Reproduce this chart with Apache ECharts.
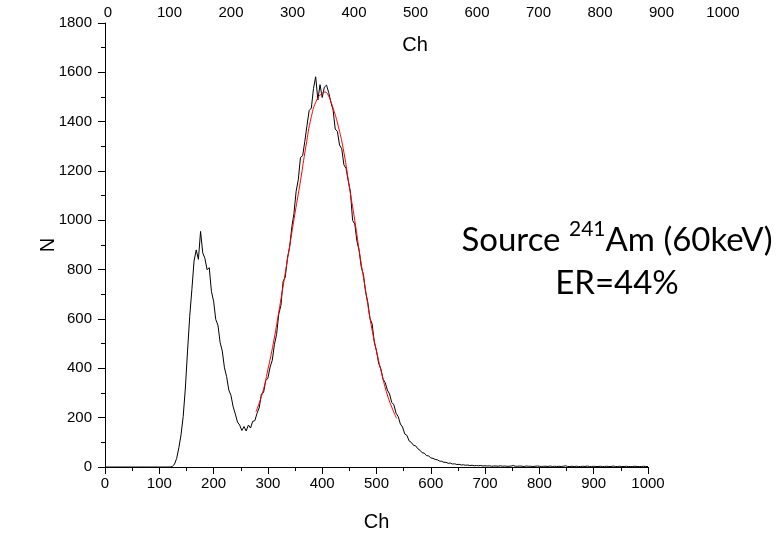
<!DOCTYPE html>
<html><head><meta charset="utf-8">
<script src="https://cdn.jsdelivr.net/npm/echarts@6/dist/echarts.min.js"></script>
<style>html,body{margin:0;padding:0;background:#fff}#c{width:784px;height:533px}</style>
</head><body><div id="c"></div>
<script>
// Spectrum: counts per bin, bins start at channel 0, one value every 4 channels
const spectrumStartCh = 0;
const spectrumStepCh = 4;
const spectrumCounts = [
  0,0,0,0,0,0,0,0,0,0,
  0,0,0,0,0,0,0,0,0,0,
  0,0,0,0,0,0,0,0,0,0,
  0,2,12,35,78,130,205,320,470,610,
  720,835,880,842,955,868,846,800,808,712,
  672,598,575,505,470,402,366,312,290,244,
  215,182,170,148,164,146,170,158,185,188,
  218,240,296,302,350,360,405,432,496,538,
  620,655,752,770,848,890,972,1028,1118,1165,
  1255,1262,1320,1385,1445,1455,1535,1582,1488,1550,
  1498,1540,1548,1518,1478,1448,1370,1360,1305,1290,
  1225,1210,1160,1115,1000,985,915,878,810,780,
  708,668,602,580,505,470,420,398,356,342,
  312,296,262,252,218,204,174,162,134,128,
  106,100,88,86,74,68,58,56,46,45,
  37,35,31,29,24,23,19,19,15,16,
  12,13,10,11,8,9,7,8,6,7,
  5,6,5,6,4,5,4,5,3,4,
  4,3,5,3,4,3,3,4,6,3,
  3,4,3,2,4,3,3,2,3,4,
  3,2,3,3,2,4,2,3,2,3,
  2,3,5,2,2,3,2,3,2,2,
  3,2,4,2,2,3,2,2,3,2,
  2,3,2,2,4,2,2,3,2,2,
  3,2,2,2,3,2,2,2,3,2,
  2
];
// Gaussian fit (red)
const fitChannels = [278,290,300,310,320,330,340,350,360,370,380,390,400,405,410,420,430,440,450,460,470,480,490,500,510,520,530,537];
const fitCounts   = [224,300,395,502,628,760,895,1030,1160,1300,1420,1488,1516,1520,1512,1455,1378,1275,1135,1000,850,715,578,470,375,292,232,197];

const xMin = 0, xMax = 1000, xStep = 100;
const yMin = 0, yMax = 1800, yStep = 200;
const xTitle = 'Ch';
const yTitle = 'N';
const noteLine1 = ['Source ', '241', 'Am (60keV)'];
const noteLine2 = 'ER=44%';

const spectrumData = spectrumCounts.map((v, i) => [spectrumStartCh + i * spectrumStepCh, v]);
const fitData = fitChannels.map((c, i) => [c, fitCounts[i]]);

const FONT = "'Liberation Sans', Arial, sans-serif";
const plain = v => String(v);
const tickFont = { fontFamily: FONT, fontSize: 15, color: '#000', formatter: plain };
const titleFont = { fontFamily: FONT, fontSize: 20, color: '#000' };
const axisLine = { show: true, lineStyle: { color: '#000', width: 1 } };

const chart = echarts.init(document.getElementById('c'), null, { renderer: 'canvas' });
chart.setOption({
  backgroundColor: '#fff',
  animation: false,
  textStyle: { fontFamily: FONT },
  grid: [
    { left: 105, right: 136, top: 23, bottom: 66, containLabel: false, outerBoundsMode: 'none' },
    { left: 108, right: 61, top: 23, bottom: 66, containLabel: false, outerBoundsMode: 'none' }
  ],
  xAxis: [
    {
      gridIndex: 0, type: 'value', min: xMin, max: xMax, interval: xStep, position: 'bottom',
      axisLine: axisLine,
      axisTick: { show: true, length: 7, lineStyle: { color: '#000' } },
      minorTick: { show: true, splitNumber: 2, length: 4, lineStyle: { color: '#000' } },
      axisLabel: Object.assign({ margin: 9 }, tickFont),
      splitLine: { show: false },
      name: xTitle, nameLocation: 'middle', nameGap: 45, nameTextStyle: titleFont,
      nameMoveOverlap: false
    },
    {
      gridIndex: 1, type: 'value', min: xMin, max: xMax, interval: xStep, position: 'top',
      axisLine: { show: false }, axisTick: { show: false },
      axisLabel: Object.assign({ margin: 3 }, tickFont),
      splitLine: { show: false }
    }
  ],
  yAxis: [
    {
      gridIndex: 0, type: 'value', min: yMin, max: yMax, interval: yStep,
      axisLine: axisLine,
      axisTick: { show: true, length: 7, lineStyle: { color: '#000' } },
      minorTick: { show: true, splitNumber: 2, length: 4, lineStyle: { color: '#000' } },
      axisLabel: Object.assign({ margin: 13 }, tickFont),
      splitLine: { show: false },
      name: yTitle, nameLocation: 'middle', nameGap: 47, nameRotate: 90, nameTextStyle: titleFont,
      nameMoveOverlap: false
    },
    { gridIndex: 1, type: 'value', min: 0, max: 1, show: false }
  ],
  series: [
    {
      type: 'line', xAxisIndex: 0, yAxisIndex: 0, data: spectrumData,
      showSymbol: false, symbol: 'none', lineStyle: { color: '#000', width: 1 }, z: 2
    },
    {
      type: 'line', xAxisIndex: 0, yAxisIndex: 0, data: fitData, smooth: true,
      showSymbol: false, symbol: 'none', lineStyle: { color: '#ff0000', width: 1 }, z: 3
    },
    { type: 'line', xAxisIndex: 1, yAxisIndex: 1, data: [], symbol: 'none' }
  ],
  graphic: [
    {
      type: 'text', x: 415, y: 45, z: 10,
      style: { text: xTitle, align: 'center', verticalAlign: 'middle', fill: '#000',
               font: "20px 'Liberation Sans', Arial, sans-serif" }
    },
    {
      type: 'text', x: 617, y: 262, z: 10,
      style: {
        text: '{a|' + noteLine1[0] + '}{s|' + noteLine1[1] + '}{a|' + noteLine1[2] + '}\n{a|' + noteLine2 + '}',
        align: 'center', verticalAlign: 'middle',
        fill: '#000',
        rich: {
          a: { fontFamily: 'Lato, sans-serif', fontSize: 33, lineHeight: 43, fill: '#000', color: '#000' },
          s: { fontFamily: 'Lato, sans-serif', fontSize: 21, lineHeight: 33, verticalAlign: 'top', fill: '#000', color: '#000' }
        }
      }
    }
  ]
});
</script>
</body></html>
